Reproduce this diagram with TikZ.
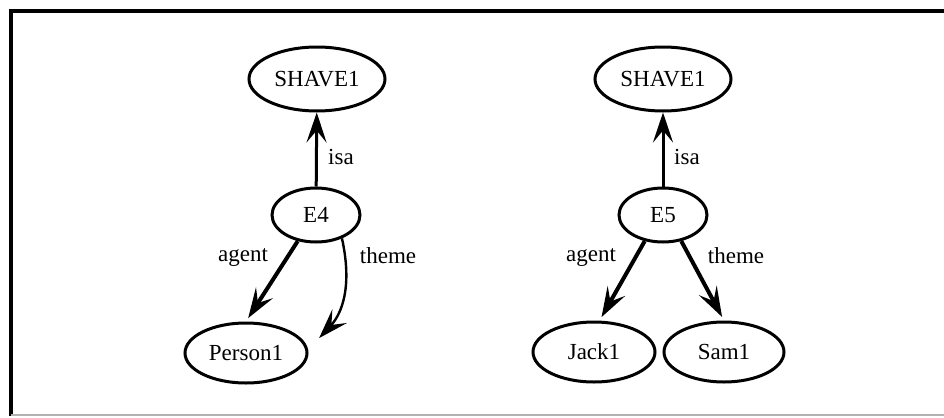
\documentclass[tikz,border=0pt]{standalone}
\usepackage{fontspec}
\setmainfont{Liberation Serif}
\usetikzlibrary{arrows.meta,shapes.geometric}

\tikzset{
  concept/.style={ellipse, draw, line width=1.5pt, inner sep=0pt, minimum height=30pt},
  wide/.style={concept, minimum width=68pt, minimum height=32pt},
  event/.style={concept, minimum width=44pt, minimum height=27pt},
  leaf/.style={concept, minimum width=61pt},
  rel/.style={-{Stealth[length=15pt,width=10pt,inset=6pt]}, line width=1.5pt},
  role/.style={rel, line width=2pt}
}

\begin{document}
\begin{tikzpicture}[x=0.5pt,y=-0.5pt,font=\fontsize{11.5}{13}\selectfont]
\useasboundingbox (0,0) rectangle (944,418);
% frame
\draw[line width=1.6pt] (11,416) -- (11,11) -- (944,11);
\draw[gray!60, line width=0.6pt] (11,415) -- (944,415);

% E4: man shaving himself
\node[wide] (shaveA) at (317,79) {SHAVE1};
\node[event] (eA) at (316,215) {E4};
\node[leaf] (personA) at (246,353) {Person1};
\draw[rel] (eA) -- (shaveA);
\draw[role, shorten >=2pt] (eA.-125) -- (personA.north);
\draw[rel, line width=1.2pt, shorten >=8pt] (eA.-42) .. controls +(12,55) and +(30,-32) .. (personA.3);
\node (isaA) at (341,157) {isa};
\node (agentA) at (243,258) {agent};
\node (themeA) at (388,256) {theme};

% E5: Jack shaving Sam
\node[wide] (shaveB) at (663,79) {SHAVE1};
\node[event] (eB) at (663,215) {E5};
\node[leaf] (jack) at (594,352) {Jack1};
\node[leaf, minimum width=60pt] (sam) at (724,352) {Sam1};
\draw[rel] (eB) -- (shaveB);
\draw[role, shorten >=2pt] (eB.-125) -- (jack.80);
\draw[role, shorten >=2pt] (eB.-55) -- (sam.north);
\node (isaB) at (687,157) {isa};
\node (agentB) at (591,258) {agent};
\node (themeB) at (736,256) {theme};
\end{tikzpicture}
\end{document}
